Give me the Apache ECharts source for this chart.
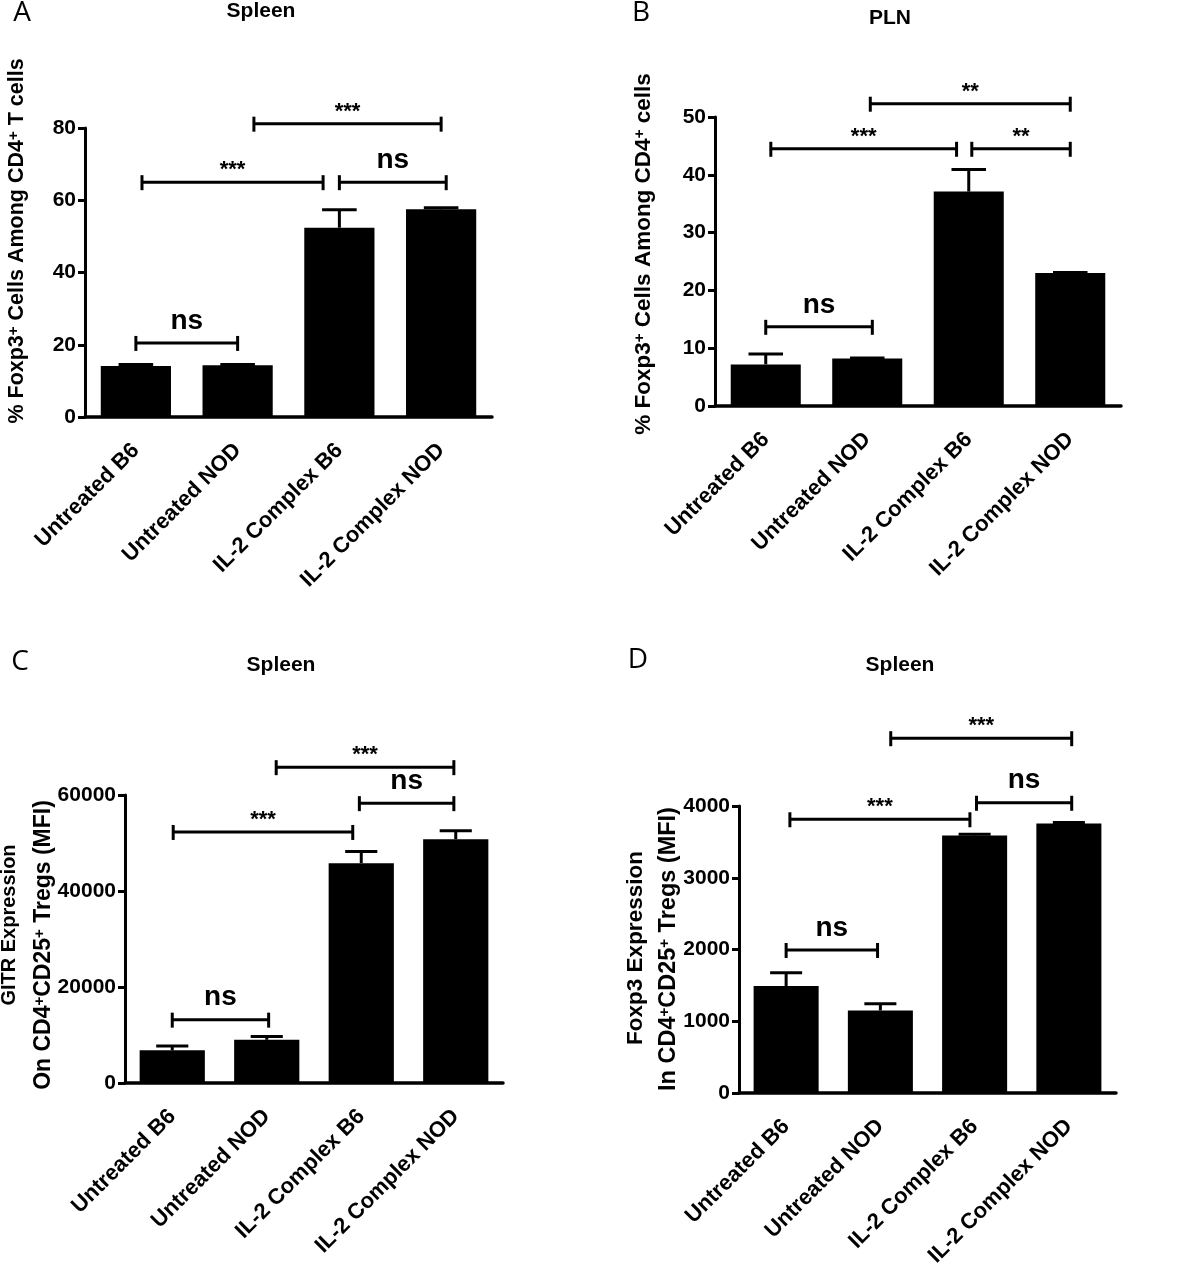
<!DOCTYPE html>
<html><head><meta charset="utf-8">
<script src="https://cdn.jsdelivr.net/npm/echarts@6/dist/echarts.min.js"></script>
<style>html,body{margin:0;padding:0;background:#fff}#c{width:1200px;height:1272px}</style>
</head><body><div id="c"></div>
<script>
const categories = ['Untreated B6', 'Untreated NOD', 'IL-2 Complex B6', 'IL-2 Complex NOD'];

const valuesA = [14.1, 14.3, 52.4, 57.5];
const errorsA = [0.4, 0.2, 5.0, 0.4];
const valuesB = [7.2, 8.2, 37.1, 23.0];
const errorsB = [1.8, 0.1, 3.8, 0.1];
const valuesC = [6800, 9000, 45800, 50800];
const errorsC = [900, 700, 2450, 1760];
const valuesD = [1490, 1150, 3590, 3755];
const errorsD = [185, 93, 15, 15];

const yMaxA = 80, yStepA = 20;
const yMaxB = 50, yStepB = 10;
const yMaxC = 60000, yStepC = 20000;
const yMaxD = 4000, yStepD = 1000;

// [from category, to category, y value, label]
const bracketsA = [[0, 1, 20.5, 'ns'], [0.06, 1.84, 65, '***'], [2.0, 3.05, 65, 'ns'], [1.16, 3.0, 81.2, '***']];
const bracketsB = [[0, 1.05, 13.7, 'ns'], [0.05, 1.88, 44.5, '***'], [2.03, 3.0, 44.5, '**'], [1.03, 3.0, 52.3, '**']];
const bracketsC = [[0, 1.02, 13200, 'ns'], [0.01, 1.91, 52300, '***'], [1.98, 2.98, 58300, 'ns'], [1.1, 2.98, 65800, '***']];
const bracketsD = [[0, 0.97, 1993, 'ns'], [0.04, 1.95, 3815, '***'], [2.02, 3.03, 4045, 'ns'], [1.11, 3.03, 4945, '***']];

const FONT = '"Liberation Sans", Arial, sans-serif';

const chart = echarts.init(document.getElementById('c'), null, {renderer: 'canvas'});

const grids = [
  {left: 85, top: 128, width: 407, height: 289},
  {left: 715, top: 117, width: 406, height: 289},
  {left: 125, top: 795, width: 378, height: 288},
  {left: 739, top: 806, width: 377, height: 287}
];
const maxes = [[yMaxA, yStepA], [yMaxB, yStepB], [yMaxC, yStepC], [yMaxD, yStepD]];
const vals = [valuesA, valuesB, valuesC, valuesD];
const errs = [errorsA, errorsB, errorsC, errorsD];
const brks = [bracketsA, bracketsB, bracketsC, bracketsD];

function errRender(values, errors) {
  return function (params, api) {
    const i = params.dataIndex;
    const base = api.coord([i, values[i]]);
    const top = api.coord([i, values[i] + errors[i]]);
    const bw = api.size([1, 0])[0];
    const hw = bw * 0.17;
    return {type: 'group', children: [
      {type: 'line', shape: {x1: base[0], y1: base[1], x2: top[0], y2: top[1]}, style: {stroke: '#000', lineWidth: 3}},
      {type: 'line', shape: {x1: top[0] - hw, y1: top[1], x2: top[0] + hw, y2: top[1]}, style: {stroke: '#000', lineWidth: 3}}
    ]};
  };
}
function bracketRender(brackets) {
  return function (params, api) {
    const b = brackets[params.dataIndex];
    const p0 = api.coord([0, b[2]]);
    const bw = api.size([1, 0])[0];
    const x1 = p0[0] + b[0] * bw, x2 = p0[0] + b[1] * bw, y = p0[1];
    const isNs = b[3] === 'ns';
    return {type: 'group', children: [
      {type: 'line', shape: {x1: x1, y1: y, x2: x2, y2: y}, style: {stroke: '#000', lineWidth: 3}},
      {type: 'line', shape: {x1: x1, y1: y - 7, x2: x1, y2: y + 8}, style: {stroke: '#000', lineWidth: 3}},
      {type: 'line', shape: {x1: x2, y1: y - 7, x2: x2, y2: y + 8}, style: {stroke: '#000', lineWidth: 3}},
      {type: 'text', x: (x1 + x2) / 2, y: y - (isNs ? 22 : 12),
        style: {text: b[3], fill: '#000', font: isNs ? 'bold 28px ' + FONT : 'bold 22px ' + FONT,
          align: 'center', verticalAlign: 'middle'}}
    ]};
  };
}

const supRich = {s: {fontSize: 15, fontWeight: 'bold', fontFamily: FONT, verticalAlign: 'top', fill: '#000'}};
function vText(x, y, text, size) {
  return {type: 'text', x: x, y: y, rotation: Math.PI / 2, style: {
    text: text, font: 'bold ' + size + 'px ' + FONT, fill: '#000', align: 'center', verticalAlign: 'middle', rich: supRich}};
}
function hText(x, y, text, font) {
  return {type: 'text', x: x, y: y, style: {text: text, font: font, fill: '#000', align: 'center', verticalAlign: 'middle'}};
}

const option = {
  animation: false,
  backgroundColor: '#fff',
  grid: grids.map(g => Object.assign({outerBoundsMode: 'none', containLabel: false}, g)),
  xAxis: grids.map((g, k) => ({
    gridIndex: k, type: 'category', data: categories,
    axisLine: {lineStyle: {color: '#000', width: 3.5}},
    axisTick: {alignWithLabel: true, length: 8, lineStyle: {color: '#000', width: 3}},
    axisLabel: {rotate: 45, margin: 30, color: '#000', fontWeight: 'bold', fontSize: 22, fontFamily: FONT, interval: 0},
    splitLine: {show: false}
  })),
  yAxis: grids.map((g, k) => ({
    gridIndex: k, type: 'value', min: 0, max: maxes[k][0], interval: maxes[k][1],
    axisLine: {show: true, lineStyle: {color: '#000', width: 3}},
    axisTick: {show: true, length: 7, lineStyle: {color: '#000', width: 3}},
    axisLabel: {margin: 9, color: '#000', fontWeight: 'bold', fontSize: 21, fontFamily: FONT,
      formatter: v => String(v)},
    splitLine: {show: false}
  })),
  series: [].concat(
    vals.map((v, k) => ({type: 'bar', xAxisIndex: k, yAxisIndex: k, data: v, barWidth: '69%',
      itemStyle: {color: '#000'}, silent: true})),
    vals.map((v, k) => ({type: 'custom', xAxisIndex: k, yAxisIndex: k, clip: false, silent: true, z: 3,
      data: v.map((x, i) => [i, x]), renderItem: errRender(v, errs[k])})),
    brks.map((b, k) => ({type: 'custom', xAxisIndex: k, yAxisIndex: k, clip: false, silent: true, z: 3,
      data: b.map((x, i) => [i, 0]), renderItem: bracketRender(b)}))
  ),
  graphic: [
    hText(22, 13, 'A', '28px "Open Sans"'),
    hText(641, 13, 'B', '28px "Open Sans"'),
    hText(20, 662, 'C', '28px "Open Sans"'),
    hText(638, 660, 'D', '28px "Open Sans"'),
    hText(261, 11, 'Spleen', 'bold 21px ' + FONT),
    hText(890, 18, 'PLN', 'bold 21px ' + FONT),
    hText(281, 665, 'Spleen', 'bold 21px ' + FONT),
    hText(900, 665, 'Spleen', 'bold 21px ' + FONT),
    vText(17, 241, '% Foxp3{s|+} Cells Among CD4{s|+} T cells', 21.5),
    vText(644, 254, '% Foxp3{s|+} Cells Among CD4{s|+} cells', 22.5),
    vText(9, 925, 'GITR Expression', 20),
    vText(44, 945, 'On CD4{s|+}CD25{s|+} Tregs (MFI)', 23),
    vText(636, 948, 'Foxp3 Expression', 22.5),
    vText(669, 949, 'In CD4{s|+}CD25{s|+} Tregs (MFI)', 23.5)
  ]
};
chart.setOption(option);
</script></body></html>
